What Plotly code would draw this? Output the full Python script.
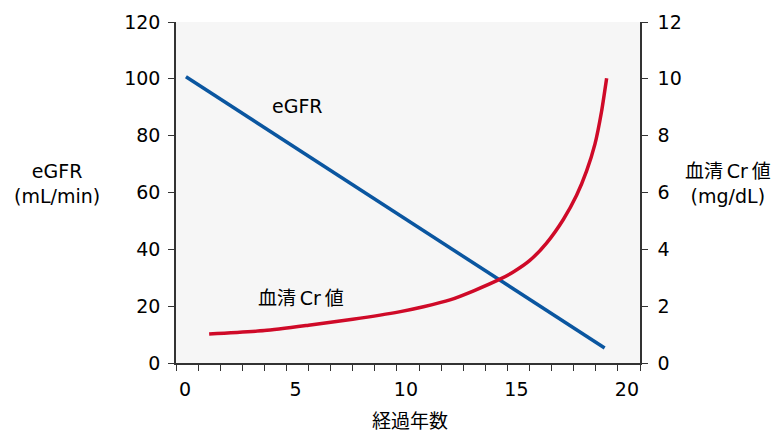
import plotly.graph_objects as go

# Data
egfr_x = [0.45, 19.4]
egfr_y = [100.7, 5.3]

cr_x = [1.5, 4.0, 6.0, 8.0, 10.1, 11.2, 12.4, 13.5, 14.66, 15.3, 16.0, 16.77, 17.53, 18.13, 18.58, 18.96, 19.26, 19.49]
cr_y = [1.02, 1.14, 1.33, 1.54, 1.80, 1.98, 2.22, 2.55, 2.95, 3.22, 3.6, 4.22, 5.05, 5.9, 6.75, 7.7, 8.85, 10.02]

x_tickvals = list(range(0, 22))
x_ticktext = [str(v) if v % 5 == 0 else "" for v in x_tickvals]
y_left_ticks = [0, 20, 40, 60, 80, 100, 120]
y_right_ticks = [0, 2, 4, 6, 8, 10, 12]

FONT = "DejaVu Sans, Noto Sans CJK JP"
AX = "#333333"

# page offset (body margin) compensation
OFF = 8
W, H = 782 - OFF, 433 - OFF
ML, MR, MT, MB = 176 - OFF, 142, 22 - OFF, 70

fig = go.Figure()
fig.add_trace(go.Scatter(x=egfr_x, y=egfr_y, mode="lines",
                         line=dict(color="#0a56a0", width=3.5), yaxis="y", showlegend=False))
fig.add_trace(go.Scatter(x=cr_x, y=cr_y, mode="lines",
                         line=dict(color="#cf0a28", width=3.5, shape="spline", smoothing=0.6),
                         yaxis="y2", showlegend=False))

fig.update_layout(
    width=W, height=H,
    margin=dict(l=ML, r=MR, t=MT, b=MB, pad=0),
    paper_bgcolor="white", plot_bgcolor="#f6f6f6",
    font=dict(family=FONT, size=19, color="#000000"),
    xaxis=dict(range=[0, 21], tickvals=x_tickvals, ticktext=x_ticktext,
               ticks="outside", ticklen=6, tickcolor=AX, tickwidth=1.2,
               showline=True, linecolor=AX, linewidth=1.5, showgrid=False, zeroline=False,
               ticklabelshift=9, ticklabelstandoff=2, automargin=False),
    yaxis=dict(range=[0, 120], tickvals=y_left_ticks, ticks="outside", ticklen=6,
               tickcolor=AX, tickwidth=1.2, showline=True, linecolor=AX, linewidth=1.5,
               showgrid=False, zeroline=False, ticklabelstandoff=4, automargin=False),
    yaxis2=dict(range=[0, 12], tickvals=y_right_ticks, overlaying="y", side="right",
                ticks="outside", ticklen=6, tickcolor=AX, tickwidth=1.2,
                showline=True, linecolor=AX, linewidth=1.5, showgrid=False, zeroline=False,
                ticklabelstandoff=6, automargin=False),
    annotations=[
        dict(text="eGFR<br>(mL/min)", x=57, y=183, xref="paper", yref="paper", showarrow=False),
        dict(text="血清\u2009Cr\u2009値<br>(mg/dL)", x=728, y=183, xref="paper", yref="paper", showarrow=False),
        dict(text="経過年数", x=410, y=421, xref="paper", yref="paper", showarrow=False),
        dict(text="eGFR", x=297, y=106, xref="paper", yref="paper", showarrow=False),
        dict(text="血清\u2009Cr\u2009値", x=301, y=298, xref="paper", yref="paper", showarrow=False),
    ],
)

# convert page-pixel annotation positions to paper coordinates
pw = W - ML - MR
ph = H - MT - MB
for a in fig.layout.annotations:
    px, py = a.x - OFF, a.y - OFF
    a.x = (px - ML) / pw
    a.y = (H - MB - py) / ph
    a.xanchor = "center"
    a.yanchor = "middle"

fig.write_html("out.html")
